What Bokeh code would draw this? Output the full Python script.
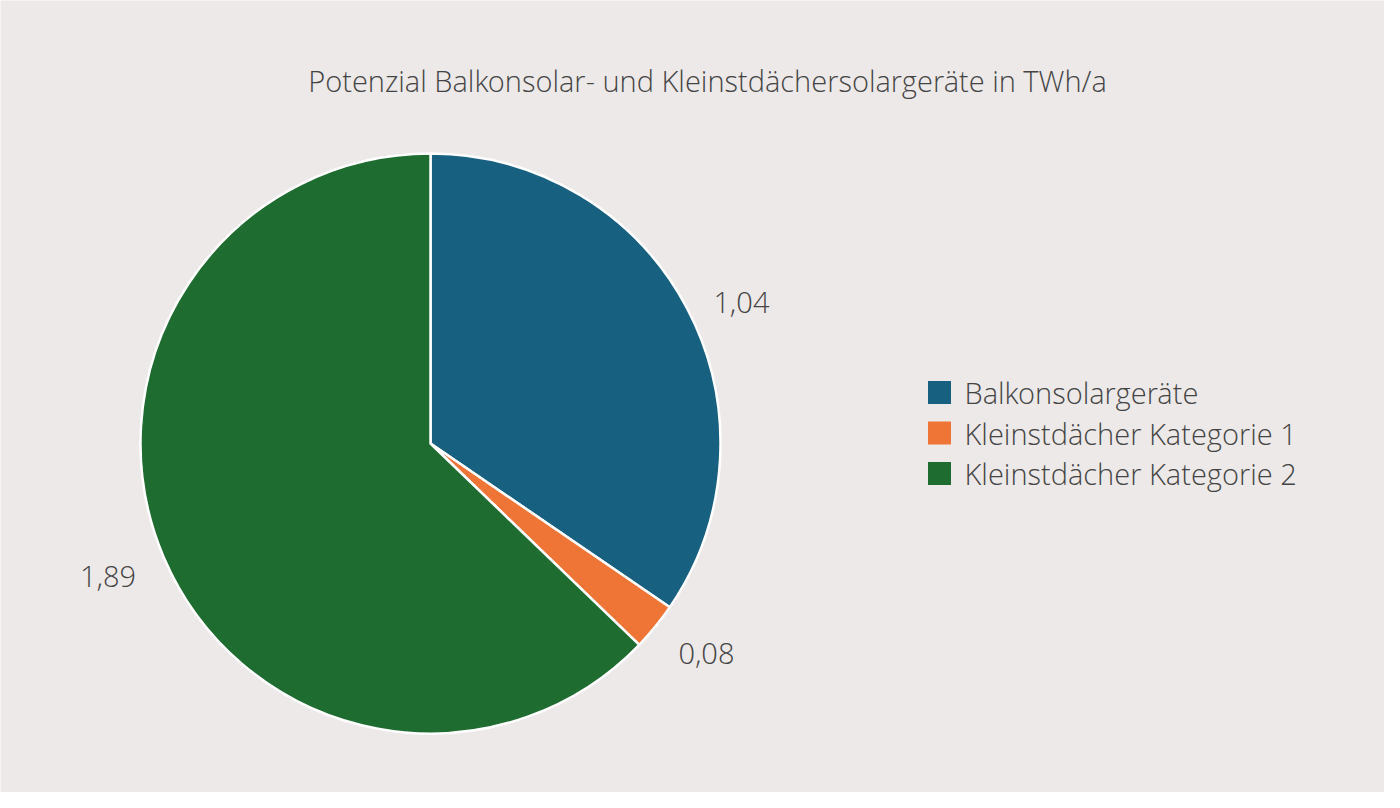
import math
from bokeh.plotting import figure
from bokeh.models import ColumnDataSource, Range1d
from bokeh.core.properties import value
from bokeh.embed import file_html
from bokeh.resources import INLINE

# data
categories = ["Balkonsolargeräte", "Kleinstdächer Kategorie 1", "Kleinstdächer Kategorie 2"]
values = [1.04, 0.08, 1.89]
colors = ["#17607f", "#ee7536", "#1f6c31"]
title = "Potenzial Balkonsolar- und Kleinstdächersolargeräte in TWh/a"

W, H = 1384, 792
BG = "#ece9e8"
TEXT = "#444444"
FONT = "Open Sans Light, Open Sans"
FS = "29px"

# pie centre / radius (y measured up from the bottom)
cx, cy, R = 430, H - 443, 290

total = sum(values)
starts, ends, cum = [], [], 0.0
for v in values:
    starts.append(math.pi / 2 - 2 * math.pi * cum / total)
    cum += v
    ends.append(math.pi / 2 - 2 * math.pi * cum / total)

src = ColumnDataSource(dict(cat=categories, val=values, color=colors,
                            start=starts, end=ends))

p = figure(width=W, height=H, x_range=Range1d(0, W), y_range=Range1d(0, H),
           output_backend="svg", toolbar_location=None, min_border=0)
p.axis.visible = False
p.grid.visible = False
p.outline_line_color = None
p.background_fill_color = BG
p.border_fill_color = BG

p.wedge(x=cx, y=cy, radius=R, start_angle="start", end_angle="end",
        direction="clock", fill_color="color", line_color="white",
        line_width=2.5, source=src)

# outside value labels, 30px beyond the rim at each slice's mid angle
dist = 30
lx, ly, align = [], [], []
for s, e in zip(starts, ends):
    m = (s + e) / 2
    lx.append(cx + (R + dist) * math.cos(m))
    ly.append(cy + (R + dist) * math.sin(m) - 8)
    align.append("left" if math.cos(m) >= 0 else "right")
labels = [f"{v:.2f}".replace(".", ",") for v in values]
p.text(x=lx, y=ly, text=labels, text_align=align, text_baseline="middle",
       text_font=value(FONT), text_font_size=FS, text_color=TEXT)

# title
p.text(x=[707], y=[H - 80], text=[title], text_align="center", text_baseline="middle",
       text_font=value(FONT), text_font_size=FS, text_color=TEXT)

# legend
lgx, lgy, pitch, sq = 939, H - 392, 40.5, 23
ys = [lgy - i * pitch for i in range(len(categories))]
p.rect(x=[lgx] * len(ys), y=ys, width=sq, height=sq, fill_color=colors, line_color=None)
p.text(x=[lgx + 25] * len(ys), y=ys, text=categories, text_baseline="middle",
       text_font=value(FONT), text_font_size=FS, text_color=TEXT)

open("out.html", "w").write(file_html(p, INLINE))
